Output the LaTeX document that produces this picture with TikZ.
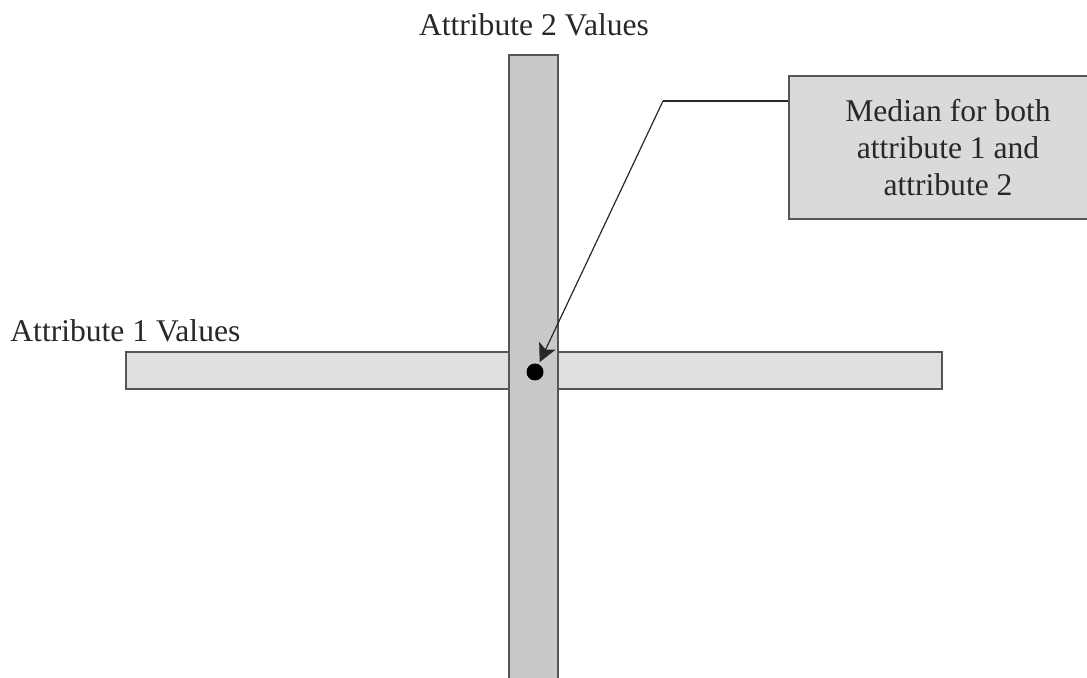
\documentclass[tikz,border=0pt]{standalone}
\usepackage{fontspec}
\setmainfont{Liberation Serif}
\usetikzlibrary{arrows.meta,positioning}
\definecolor{barhi}{RGB}{221,223,225}
\definecolor{barvi}{RGB}{200,201,203}
\definecolor{boxfill}{RGB}{216,218,220}
\definecolor{edge}{RGB}{85,85,85}
\definecolor{ink}{RGB}{40,40,40}

\begin{document}
\begin{tikzpicture}[x=0.5pt,y=-0.5pt,
  every node/.style={font=\fontsize{15.8}{18.5}\selectfont,text=ink},
  hbar/.style={draw=edge,fill=barhi,line width=1pt},
  vbar/.style={fill=barvi},
  vedge/.style={draw=edge,line width=1pt},
  notebox/.style={draw=edge,fill=boxfill,line width=1pt,align=center,
    minimum width=159pt,minimum height=71.5pt,inner sep=0pt}]
\clip (0,0) rectangle (1087,678);
% bars
\draw[hbar] (126,352) rectangle (942,389);
\fill[vbar] (509,55) rectangle (558,690);
\draw[vedge] (509,690) -- (509,55) -- (558,55) -- (558,690);
\node[circle,fill=black,inner sep=0pt,minimum size=8.5pt] (med) at (535,372) {};
% labels
\node (lab2) at (534,25) {Attribute 2 Values};
\node[anchor=base west,inner sep=0pt] (lab1) at (10,342) {Attribute 1 Values};
% callout
\node[notebox] (note) at (948,148) {Median for both\\attribute 1 and\\attribute 2};
\coordinate (bend) at (663,101);
\draw[ink,line width=0.6pt] (note.west |- bend) -- (bend);
\draw[ink,line width=0.6pt,-{Stealth[length=9pt,width=9pt,inset=2pt]},shorten >=1pt] (bend) -- (med);
\end{tikzpicture}
\end{document}
